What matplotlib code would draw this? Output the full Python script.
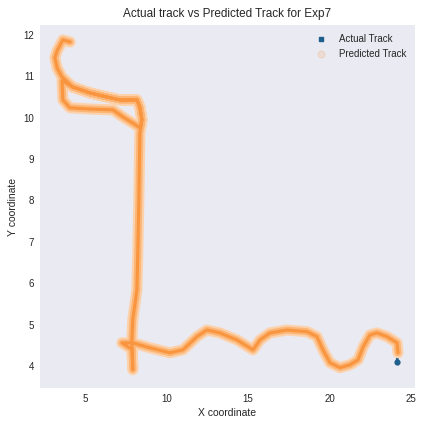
import matplotlib
matplotlib.use("Agg")
import matplotlib.pyplot as plt
import seaborn as sns
import numpy as np

sns.set_theme(style="dark")
plt.rcParams['font.family'] = ['Liberation Sans', 'DejaVu Sans']

# Waypoints of the track (x, y coordinates)
track_x = [4.10, 3.65, 3.30, 3.16, 3.30, 3.59,
           4.26, 5.31, 6.35, 7.15, 7.80, 8.19, 8.37, 8.50, 8.40,
           7.94, 7.33, 6.72, 5.31, 4.08, 3.65, 3.60,
           4.26, 5.31, 6.35, 7.15, 7.80, 8.19, 8.37, 8.50, 8.37,
           8.31, 8.25, 8.19, 7.94, 7.88, 7.94, 7.90, 7.27, 7.94,
           8.99, 10.21, 11.01, 11.87, 12.48, 13.28, 14.33, 15.31, 15.74,
           16.35, 17.39, 18.62, 19.23, 19.60, 20.03, 20.64, 21.26, 21.75,
           22.06, 22.48, 22.91, 23.53, 24.14, 24.20, 24.14]
track_y = [11.83, 11.88, 11.62, 11.45, 11.20, 10.99,
           10.74, 10.60, 10.50, 10.43, 10.43, 10.43, 10.26, 9.95, 9.75,
           9.87, 10.02, 10.19, 10.21, 10.24, 10.43, 10.90,
           10.74, 10.60, 10.50, 10.43, 10.43, 10.43, 10.26, 9.95, 9.63,
           8.01, 6.81, 5.84, 5.12, 4.60, 3.91, 4.40, 4.56, 4.56,
           4.44, 4.32, 4.39, 4.71, 4.87, 4.80, 4.63, 4.39, 4.63,
           4.80, 4.87, 4.83, 4.71, 4.39, 4.08, 3.96, 4.03, 4.15,
           4.46, 4.75, 4.80, 4.71, 4.56, 4.32, 4.10]

actual_x = track_x
actual_y = track_y
pred_x = track_x[:-1]
pred_y = track_y[:-1]

fig = plt.figure(figsize=(4.24, 4.24), dpi=100)
ax = fig.add_axes([0.094, 0.085, 0.885, 0.856])
ax.set_facecolor('#eaeaf2')

blue = '#1f5f8b'
orange = '#ff7f0e'

ax.plot(actual_x, actual_y, color=blue, lw=2, solid_capstyle='round',
        solid_joinstyle='round', zorder=2)
ax.scatter([], [], color=blue, s=10, marker='s', label='Actual Track')
ax.scatter(actual_x[-1:], actual_y[-1:], color=blue, s=12, zorder=2)

ax.plot(pred_x, pred_y, color='#fcd2ad', lw=8, solid_capstyle='round',
        solid_joinstyle='round', zorder=3)
ax.plot(pred_x, pred_y, color='#fbb677', lw=5, solid_capstyle='round',
        solid_joinstyle='round', zorder=4)
ax.plot(pred_x, pred_y, color='#f8953e', lw=2.2, solid_capstyle='round',
        solid_joinstyle='round', zorder=5)
ax.scatter([], [], color=orange, s=40, alpha=0.12, label='Predicted Track')

ax.set_xlim(2.24, 25.25)
ax.set_ylim(3.47, 12.24)
ax.set_xticks([5, 10, 15, 20, 25])
ax.set_yticks([4, 5, 6, 7, 8, 9, 10, 11, 12])
ax.tick_params(labelsize=7, length=0, pad=4)
for s in ax.spines.values():
    s.set_visible(False)

ax.set_title('Actual track vs Predicted Track for Exp7', fontsize=8.5, pad=6)
ax.set_xlabel('X coordinate', fontsize=7.5, labelpad=3)
ax.set_ylabel('Y coordinate', fontsize=7.5, labelpad=4)
leg = ax.legend(loc='upper right', fontsize=7, frameon=False, markerscale=0.8)

fig.savefig('out.png', dpi=100)
